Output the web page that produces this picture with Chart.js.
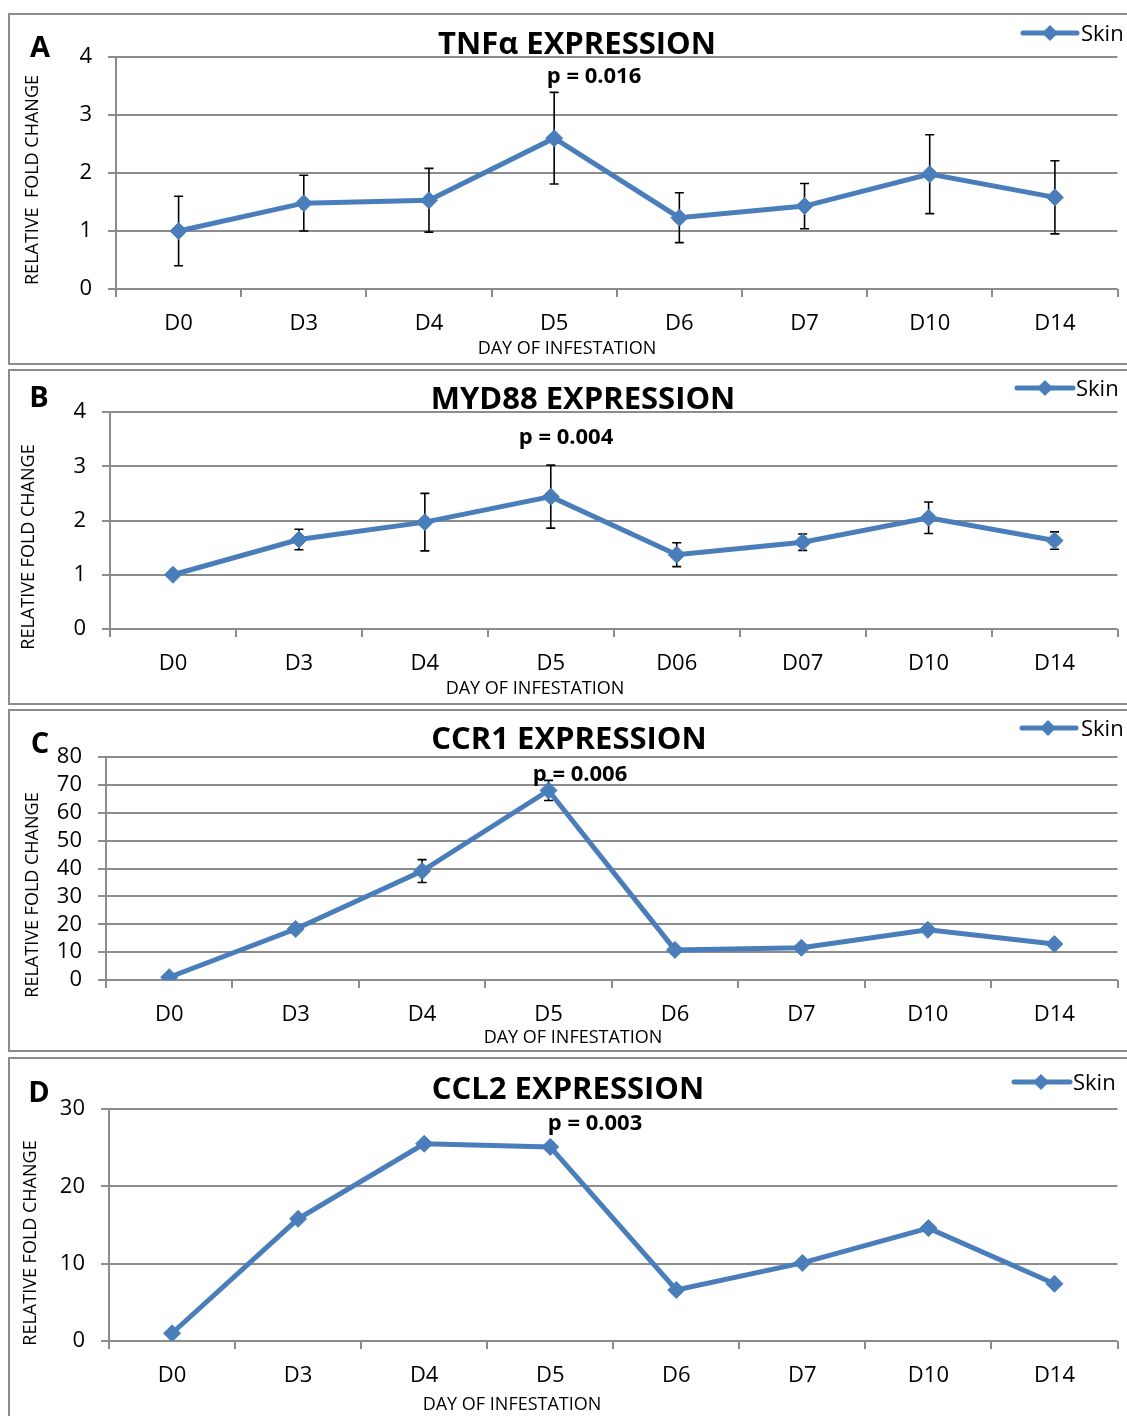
<!DOCTYPE html>
<html>
<head>
<meta charset="utf-8">
<script src="https://cdn.jsdelivr.net/npm/chart.js@4.4.1/dist/chart.umd.min.js"></script>
<style>
    body { margin: 0; background: #fff; width: 1127px; height: 1416px; overflow: hidden; position: relative; }
    .box { position: absolute; left: 8px; width: 1200px; border: 2px solid #8c8c8c; box-sizing: border-box; }
    canvas { position: absolute; left: 0; }
</style>
</head>
<body>
<div id="figure"></div>
<script>
// days sampled after infestation
const days = ['D0', 'D3', 'D4', 'D5', 'D6', 'D7', 'D10', 'D14'];
const daysMyd88 = ['D0', 'D3', 'D4', 'D5', 'D06', 'D07', 'D10', 'D14'];

// relative fold change (mean) and error (+/-) per gene
const tnfMean = [1.00, 1.48, 1.53, 2.60, 1.23, 1.43, 1.98, 1.58];
const tnfErr = [0.60, 0.48, 0.55, 0.79, 0.43, 0.39, 0.68, 0.63];
const myd88Mean = [1.00, 1.65, 1.97, 2.44, 1.37, 1.60, 2.05, 1.63];
const myd88Err = [0.00, 0.19, 0.53, 0.58, 0.22, 0.15, 0.29, 0.16];
const ccr1Mean = [1.0, 18.3, 39.1, 68.0, 10.8, 11.6, 18.0, 12.9];
const ccr1Err = [0, 0, 4.1, 3.6, 0, 0, 0, 0];
const ccl2Mean = [1.0, 15.8, 25.5, 25.1, 6.6, 10.1, 14.6, 7.4];
const ccl2Err = [0, 0, 0, 0, 0, 0, 0, 0];

const FONT = '"Open Sans", "DejaVu Sans", sans-serif';
const BLUE = '#4a7ebb';
const GRID = '#8c8c8c';
const WIDTH = 1127;

// panel geometry in page pixels
const panels = [
    {
        letter: 'A', title: 'TNFα EXPRESSION', pText: 'p = 0.016', yTitle: 'RELATIVE  FOLD CHANGE',
        labels: days, mean: tnfMean, err: tnfErr, yMax: 4, yStep: 1,
        top: 13, bottom: 365, plot: { left: 116, right: 1121, top: 57, bottom: 289 },
        letterAt: [40, 47], titleAt: [577, 43], pAt: [594, 75],
        legend: { x1: 1023, x2: 1077, mx: 1050, tx: 1081, y: 33 },
        xTitleAt: [567, 348], yTitleAt: [32, 180]
    },
    {
        letter: 'B', title: 'MYD88 EXPRESSION', pText: 'p = 0.004', yTitle: 'RELATIVE FOLD CHANGE',
        labels: daysMyd88, mean: myd88Mean, err: myd88Err, yMax: 4, yStep: 1,
        top: 369, bottom: 705, plot: { left: 110, right: 1121, top: 412, bottom: 629 },
        letterAt: [39, 397], titleAt: [583, 398], pAt: [566, 436],
        legend: { x1: 1017, x2: 1073, mx: 1045, tx: 1076, y: 388 },
        xTitleAt: [535, 688], yTitleAt: [28, 547]
    },
    {
        letter: 'C', title: 'CCR1 EXPRESSION', pText: 'p = 0.006', yTitle: 'RELATIVE FOLD CHANGE',
        labels: days, mean: ccr1Mean, err: ccr1Err, yMax: 80, yStep: 10,
        top: 709, bottom: 1052, plot: { left: 106, right: 1123, top: 757, bottom: 980 },
        letterAt: [40, 743], titleAt: [569, 738], pAt: [580, 773],
        legend: { x1: 1022, x2: 1076, mx: 1048, tx: 1081, y: 728 },
        xTitleAt: [573, 1037], yTitleAt: [32, 895]
    },
    {
        letter: 'D', title: 'CCL2 EXPRESSION', pText: 'p = 0.003', yTitle: 'RELATIVE FOLD CHANGE',
        labels: days, mean: ccl2Mean, err: ccl2Err, yMax: 30, yStep: 10,
        top: 1057, bottom: 1416, plot: { left: 109, right: 1119, top: 1109, bottom: 1341 },
        letterAt: [39, 1092], titleAt: [568, 1088], pAt: [595, 1122],
        legend: { x1: 1014, x2: 1070, mx: 1041, tx: 1073, y: 1082 },
        xTitleAt: [512, 1404], yTitleAt: [30, 1243]
    }
];

// draw text so that its capital letters are centred on y
function capText(ctx, text, x, y, size, weight, align) {
    ctx.font = `${weight} ${size}px ${FONT}`;
    ctx.textAlign = align;
    ctx.textBaseline = 'alphabetic';
    ctx.fillText(text, x, y + size * 0.357);
}

function diamond(ctx, x, y, r) {
    ctx.beginPath();
    ctx.moveTo(x - r, y);
    ctx.lineTo(x, y - r);
    ctx.lineTo(x + r, y);
    ctx.lineTo(x, y + r);
    ctx.closePath();
    ctx.fill();
}

// error bars, drawn under the line and markers
const errorBars = {
    id: 'errorBars',
    beforeDatasetsDraw(chart) {
        const { ctx, scales: { x, y } } = chart;
        const ds = chart.data.datasets[0];
        ctx.save();
        ctx.strokeStyle = '#000';
        ctx.lineWidth = 1.6;
        ds.data.forEach((v, i) => {
            const e = ds.errors[i];
            if (!e) return;
            const px = x.getPixelForValue(i);
            const top = y.getPixelForValue(v + e);
            const bot = y.getPixelForValue(v - e);
            ctx.beginPath();
            ctx.moveTo(px, top);
            ctx.lineTo(px, bot);
            ctx.moveTo(px - 4.5, top);
            ctx.lineTo(px + 4.5, top);
            ctx.moveTo(px - 4.5, bot);
            ctx.lineTo(px + 4.5, bot);
            ctx.stroke();
        });
        ctx.restore();
    }
};

// panel letter, titles, p value, legend and axis titles
function panelText(p) {
    return {
        id: 'panelText' + p.letter,
        afterDraw(chart) {
            const ctx = chart.ctx;
            const dy = -p.top;
            ctx.save();
            ctx.fillStyle = '#000';
            capText(ctx, p.letter, p.letterAt[0], p.letterAt[1] + dy, 29, 'bold', 'center');
            capText(ctx, p.title, p.titleAt[0], p.titleAt[1] + dy, 31, 'bold', 'center');
            capText(ctx, p.pText, p.pAt[0], p.pAt[1] + dy, 22, 'bold', 'center');
            capText(ctx, 'DAY OF INFESTATION', p.xTitleAt[0], p.xTitleAt[1] + dy, 18, 'normal', 'center');

            ctx.save();
            ctx.translate(p.yTitleAt[0], p.yTitleAt[1] + dy);
            ctx.rotate(-Math.PI / 2);
            capText(ctx, p.yTitle, 0, 0, 18, 'normal', 'center');
            ctx.restore();

            const lg = p.legend;
            ctx.strokeStyle = BLUE;
            ctx.lineWidth = 5;
            ctx.lineCap = 'round';
            ctx.beginPath();
            ctx.moveTo(lg.x1, lg.y + dy);
            ctx.lineTo(lg.x2, lg.y + dy);
            ctx.stroke();
            ctx.fillStyle = BLUE;
            diamond(ctx, lg.mx, lg.y + dy, 8);
            ctx.fillStyle = '#000';
            capText(ctx, chart.data.datasets[0].label, lg.tx, lg.y + dy, 22, 'normal', 'left');
            ctx.restore();
        }
    };
}

const figure = document.getElementById('figure');

panels.forEach(function (p) {
    const h = p.bottom - p.top;

    const box = document.createElement('DIV');
    box.className = 'box';
    box.style.top = `${p.top}px`;
    box.style.height = `${p.letter === 'D' ? h + 40 : h}px`;
    figure.appendChild(box);

    const canvas = document.createElement('CANVAS');
    canvas.width = WIDTH;
    canvas.height = h;
    canvas.style.top = `${p.top}px`;
    canvas.style.width = `${WIDTH}px`;
    canvas.style.height = `${h}px`;
    figure.appendChild(canvas);

    const plotTop = p.plot.top - p.top;
    const plotBottom = p.plot.bottom - p.top;

    new Chart(canvas, {
        type: 'line',
        data: {
            labels: p.labels,
            datasets: [{
                label: 'Skin',
                data: p.mean,
                errors: p.err,
                borderColor: BLUE,
                backgroundColor: BLUE,
                borderWidth: 5,
                tension: 0,
                pointStyle: 'rectRot',
                pointRadius: 8.5,
                pointBorderWidth: 1,
                pointBackgroundColor: BLUE,
                pointBorderColor: BLUE
            }]
        },
        options: {
            responsive: false,
            animation: false,
            devicePixelRatio: 1,
            layout: { padding: { top: plotTop, right: WIDTH - p.plot.right, left: 0, bottom: 0 } },
            plugins: { legend: { display: false }, title: { display: false }, tooltip: { enabled: false } },
            scales: {
                x: {
                    type: 'category',
                    offset: true,
                    grid: { offset: true, drawOnChartArea: false, drawTicks: true, tickLength: 8, color: GRID, lineWidth: 2 },
                    border: { display: false },
                    ticks: { color: '#000', font: { family: FONT, size: 22 }, padding: 14, maxRotation: 0, autoSkip: false },
                    afterFit: (s) => { s.height = h - plotBottom; }
                },
                y: {
                    min: 0,
                    max: p.yMax,
                    ticks: { stepSize: p.yStep, autoSkip: false, color: '#000', font: { family: FONT, size: 22 }, padding: 16 },
                    grid: { color: GRID, lineWidth: 2, tickLength: 8 },
                    border: { display: true, color: GRID, width: 2 },
                    afterFit: (s) => { s.width = p.plot.left; }
                }
            }
        },
        plugins: [errorBars, panelText(p)]
    });
});
</script>
</body>
</html>
